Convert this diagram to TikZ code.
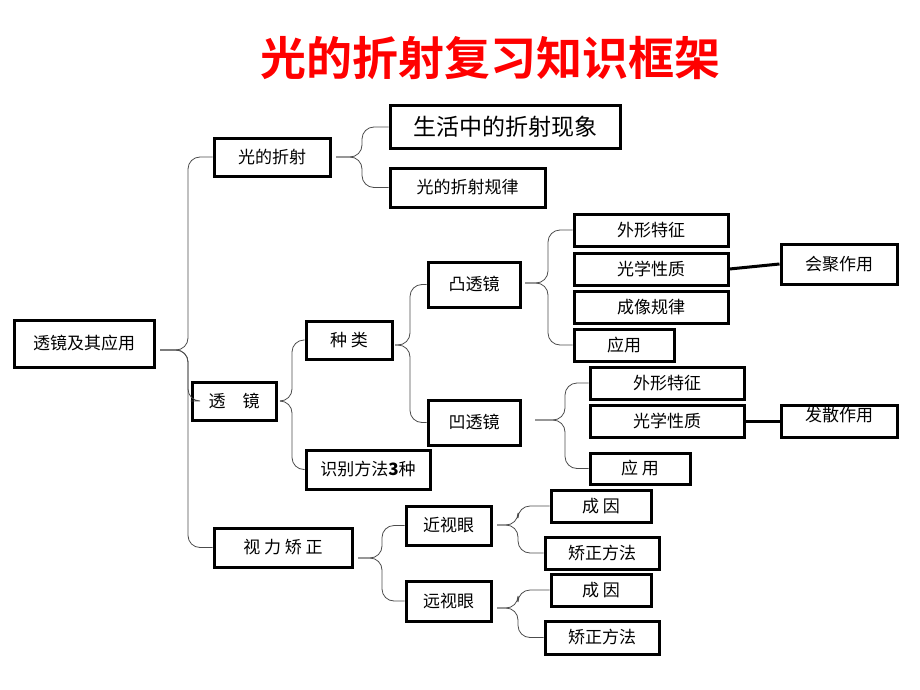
\documentclass[tikz,border=0pt]{standalone}
\usepackage{fontspec}
\newfontfamily\cjk{Noto Sans CJK SC}
\newfontfamily\cjkb{Noto Sans CJK SC Bold}
\begin{document}
\begin{tikzpicture}[x=1pt,y=-1pt,
  bx/.style={draw=black,line width=3pt,fill=white,inner sep=0pt,font=\cjk\fontsize{17}{20}\selectfont},
  br/.style={draw=black!70,line width=0.8pt,rounded corners=12pt}]
\useasboundingbox (0,0) rectangle (920,690);
\node[font=\cjkb\fontsize{46}{50}\selectfont,text=red] (title) at (490,58) {光的折射复习知识框架};
\newcommand\bx[6]{\node[bx,minimum width=#4-#2,minimum height=#5-#3] (#1) at ({(#2+#4)/2},{(#3+#5)/2}) {#6};}
\bx{root}{14}{320}{154}{367}{透镜及其应用}
\bx{zs}{214}{138}{330}{176}{光的折射}
\node[bx,minimum width=230,minimum height=42,font=\cjk\fontsize{23}{26}\selectfont] (sh) at (505,127) {生活中的折射现象};
\bx{gl}{390}{168}{545}{207}{光的折射规律}
\bx{tj}{192}{382}{276}{420}{透\quad 镜}
\bx{zl}{306}{321}{392}{359}{种\ 类}
\bx{sb}{306}{450}{430}{489}{识别方法\textbf{3}种}
\bx{sl}{214}{528}{352}{567}{视\ 力\ 矫\ 正}
\bx{tu}{428}{262}{520}{307}{凸透镜}
\bx{ao}{428}{400}{520}{445}{凹透镜}
\bx{a1}{574}{214}{728}{246}{外形特征}
\bx{a2}{574}{253}{728}{285}{光学性质}
\bx{a3}{574}{291}{728}{323}{成像规律}
\bx{a4}{574}{329}{674}{361}{应用}
\bx{hj}{781}{244}{897}{284}{会聚作用}
\bx{b1}{590}{367}{744}{399}{外形特征}
\bx{b2}{590}{405}{744}{437}{光学性质}
\bx{b3}{590}{453}{690}{484}{应\ 用}
\node[bx,minimum width=116,minimum height=32,text depth=14pt] (fs) at (839,421) {发散作用};
\bx{jin}{406}{506}{491}{545}{近视眼}
\bx{yuan}{406}{581}{491}{621}{远视眼}
\bx{c1}{551}{490}{651}{522}{成\ 因}
\bx{c2}{545}{537}{659}{569}{矫正方法}
\bx{d1}{551}{574}{651}{606}{成\ 因}
\bx{d2}{545}{621}{659}{654}{矫正方法}
\draw[line width=3pt] (a2.east) -- (hj.west);
\draw[line width=3pt] (b2.east) -- (b2.east -| fs.west);
\newcommand\brc[4]{\coordinate (t) at #1; \foreach \tg in {#3} {\draw[br] (t) -- (#2,0 |- t) |- (\tg.west);}}
\coordinate (p1) at (160,350);
\foreach \tg in {zs,tj,sl} \draw[br] (p1) -- ++(28,0) |- (\tg.west);
\coordinate (p2) at (336,157);
\foreach \tg in {sh,gl} \draw[br] (p2) -- ++(26,0) |- (\tg.west);
\coordinate (p3) at (280,401);
\foreach \tg in {zl,sb} \draw[br] (p3) -- ++(12,0) |- (\tg.west);
\coordinate (p4) at (395,345);
\foreach \tg in {tu,ao} \draw[br] (p4) -- ++(15,0) |- (\tg.west);
\coordinate (p5) at (525,283);
\foreach \tg in {a1,a4} \draw[br] (p5) -- ++(23,0) |- (\tg.west);
\coordinate (p6) at (535,420);
\foreach \tg in {b1,b3} \draw[br] (p6) -- ++(30,0) |- (\tg.west);
\coordinate (p7) at (358,558);
\foreach \tg in {jin,yuan} \draw[br] (p7) -- ++(24,0) |- (\tg.west);
\coordinate (p8) at (497,525);
\foreach \tg in {c1,c2} \draw[br] (p8) -- ++(21,0) |- (\tg.west);
\coordinate (p9) at (497,608);
\foreach \tg in {d1,d2} \draw[br] (p9) -- ++(21,0) |- (\tg.west);
\end{tikzpicture}
\end{document}
